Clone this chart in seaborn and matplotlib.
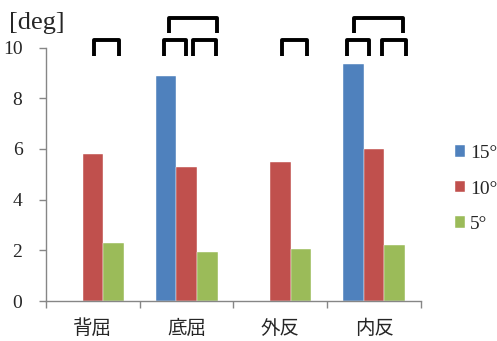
import numpy as np
import pandas as pd
import matplotlib
matplotlib.use("Agg")
import matplotlib.pyplot as plt
import seaborn as sns

# Joint motions and mean angles for each tilt condition
categories = ["背屈", "底屈", "外反", "内反"]
conditions = ["15°", "10°", "5°"]
angle_15 = [np.nan, 8.88, np.nan, 9.34]
angle_10 = [5.81, 5.30, 5.50, 5.98]
angle_5 = [2.28, 1.95, 2.04, 2.21]
y_ticks = [0, 2, 4, 6, 8, 10]
palette = ["#4F81BD", "#C0504D", "#9BBB59"]

# Significance brackets: (left x, right x, bottom y, top y) in data units
brackets = [
    (0.015, 0.28, 9.66, 10.30),
    (0.76, 0.995, 9.66, 10.30),
    (1.07, 1.31, 9.66, 10.30),
    (0.81, 1.325, 10.57, 11.16),
    (2.02, 2.285, 9.66, 10.30),
    (2.713, 2.947, 9.66, 10.30),
    (3.085, 3.335, 9.66, 10.30),
    (2.785, 3.305, 10.57, 11.16),
]

rows = []
for cat, a, b, c in zip(categories, angle_15, angle_10, angle_5):
    rows.append((cat, conditions[0], a))
    rows.append((cat, conditions[1], b))
    rows.append((cat, conditions[2], c))
df = pd.DataFrame(rows, columns=["motion", "condition", "angle"])

sns.set_style("white")
serif = ["Liberation Serif", "DejaVu Serif"]
cjk = ["Noto Sans CJK JP", "DejaVu Sans"]

fig = plt.figure(figsize=(4.97, 3.41), dpi=100)
ax = fig.add_axes([46 / 497, 40 / 341, 375 / 497, 253.5 / 341])

sns.barplot(data=df, x="motion", y="angle", hue="condition",
            order=categories, hue_order=conditions, palette=palette,
            width=0.66, saturation=1, errorbar=None, ax=ax,
            edgecolor="white", linewidth=0.3)

ax.set_xlim(-0.5, 3.5)
ax.set_ylim(0, 10)
ax.set_xlabel("")
ax.set_ylabel("")

# Y axis
ax.set_yticks(y_ticks)
ax.set_yticklabels([str(t) for t in y_ticks], fontfamily=serif, fontsize=14)
ax.tick_params(axis="y", which="major", left=True, length=5, width=1,
               color="#868686", pad=12)

# X axis: tick marks at group boundaries, labels at group centres
ax.set_xticks(np.arange(len(categories)))
ax.set_xticklabels(categories, fontfamily=cjk, fontsize=14)
ax.set_xticks(np.arange(len(categories) + 1) - 0.5, minor=True)
ax.tick_params(axis="x", which="major", bottom=False, length=0, pad=12)
ax.tick_params(axis="x", which="minor", bottom=True, length=5, width=1,
               color="#868686")

for side in ["top", "right"]:
    ax.spines[side].set_visible(False)
for side in ["left", "bottom"]:
    ax.spines[side].set_color("#868686")
    ax.spines[side].set_linewidth(1)

# Significance brackets above the bars
for x0, x1, y0, y1 in brackets:
    ax.plot([x0, x0, x1, x1], [y0, y1, y1, y0], color="black", lw=2.8,
            solid_joinstyle="round", solid_capstyle="butt", clip_on=False)

# Unit label
fig.text(9 / 497, 1 - 23 / 341, "[deg]", fontfamily=serif, fontsize=19,
         va="center", ha="left")

# Legend
handles, labels = ax.get_legend_handles_labels()
ax.legend(handles, labels, loc="center left", frameon=False,
          bbox_to_anchor=(447 / 497, 1 - 189 / 341),
          bbox_transform=fig.transFigure,
          prop={"family": serif, "size": 14},
          handlelength=0.55, handleheight=0.55, handletextpad=0.25,
          labelspacing=0.95, borderaxespad=0)

fig.savefig("out.png", dpi=100)
